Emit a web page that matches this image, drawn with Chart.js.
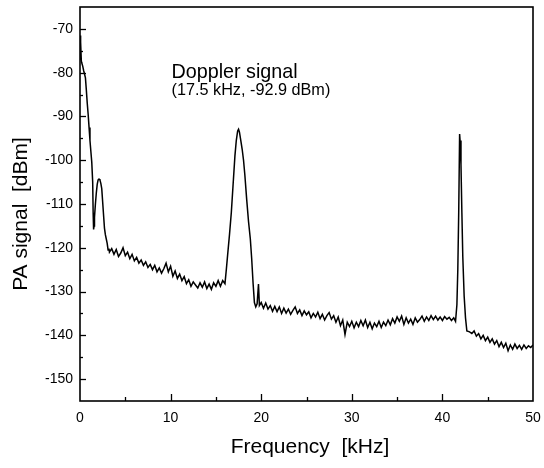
<!DOCTYPE html>
<html lang="en">
<head>
    <meta charset="UTF-8">
    <script src="https://cdn.jsdelivr.net/npm/chart.js"></script>
    <title>Doppler signal spectrum</title>
    <style>
        body { margin: 0; background: #fff; }
        #wrap { width: 544px; height: 468px; }
    </style>
</head>
<body>
    <div id="wrap"><canvas id="spectrum" width="544" height="468"></canvas></div>
    <script>
        const freqKHz = [
            0, 0.03, 0.07, 0.1, 0.15, 0.2, 0.3, 0.4, 0.5, 0.6, 0.7, 0.8, 0.9, 1.0, 1.1, 1.2, 1.3, 1.4, 1.45, 1.5,
            1.55, 1.6, 1.7, 1.8, 1.9, 2.0, 2.1, 2.2, 2.3, 2.4, 2.5, 2.6, 2.7, 2.8, 2.9, 3.0, 3.1, 3.2,
            3.25, 3.5, 3.75, 4.0, 4.25, 4.5, 4.75, 5.0, 5.25, 5.5, 5.75, 6.0, 6.25, 6.5, 6.75, 7.0, 7.25, 7.5, 7.75,
            8.0, 8.25, 8.5, 8.75, 9.0, 9.25, 9.5, 9.75, 10.0, 10.25, 10.5, 10.75, 11.0, 11.25, 11.5, 11.75,
            12.0, 12.25, 12.5, 12.75, 13.0, 13.25, 13.5, 13.75, 14.0, 14.25, 14.5, 14.75, 15.0, 15.25, 15.5, 15.75, 16.0,
            16.15, 16.3, 16.5, 16.7, 16.9, 17.1, 17.25, 17.4, 17.5, 17.6, 17.75, 17.9, 18.05, 18.2, 18.4, 18.6, 18.8,
            18.95, 19.1, 19.25, 19.4, 19.55, 19.7, 19.8, 20.0,
            20.25, 20.5, 20.75, 21.0, 21.25, 21.5, 21.75, 22.0, 22.25, 22.5, 22.75, 23.0, 23.25, 23.5, 23.75,
            24.0, 24.25, 24.5, 24.75, 25.0, 25.25, 25.5, 25.75, 26.0, 26.25, 26.5, 26.75, 27.0, 27.25, 27.5, 27.75,
            28.0, 28.25, 28.5, 28.75, 29.0, 29.25, 29.5, 29.75, 30.0, 30.25, 30.5, 30.75, 31.0, 31.25, 31.5, 31.75,
            32.0, 32.25, 32.5, 32.75, 33.0, 33.25, 33.5, 33.75, 34.0, 34.25, 34.5, 34.75, 35.0, 35.25, 35.5, 35.75,
            36.0, 36.25, 36.5, 36.75, 37.0, 37.25, 37.5, 37.75, 38.0, 38.25, 38.5, 38.75, 39.0, 39.25, 39.5, 39.75,
            40.0, 40.25, 40.5, 40.75, 41.0, 41.25, 41.45,
            41.6, 41.7, 41.8, 41.9, 41.95, 42.05, 42.15, 42.25, 42.4, 42.55, 42.7,
            43.0, 43.25, 43.5, 43.75, 44.0, 44.25, 44.5, 44.75, 45.0, 45.25, 45.5, 45.75, 46.0, 46.25, 46.5, 46.75,
            47.0, 47.25, 47.5, 47.75, 48.0, 48.25, 48.5, 48.75, 49.0, 49.25, 49.5, 49.75, 50.0
        ];
        const signalDbm = [
            -77, -71.5, -76, -73, -77.5, -77.8, -78.5, -79.5, -80.3, -81.2, -84, -87, -89.5, -92.5, -95.5, -98, -100.5, -105, -112, -115.8,
            -115, -113, -110, -107.5, -105.5, -104.5, -104.3, -104.5, -105.3, -106.5, -109.5, -112.5, -115.5, -117, -118, -119, -120.5, -120.2,
            -121.0, -120.2, -121.5, -120.4, -122.0, -121.2, -120.0, -121.8, -121.0, -122.5, -121.5, -123.0, -122.2, -123.5, -122.8, -124.0, -123.2, -124.5, -123.8,
            -125.0, -124.0, -125.5, -124.6, -125.8, -124.8, -123.5, -125.5, -124.2, -126.5, -125.3, -127.0, -126.0, -127.5, -126.6, -128.2,
            -127.3, -128.8, -127.8, -128.5, -129.2, -128.0, -129.0, -127.8, -129.3, -128.3, -129.5, -128.0, -128.8, -127.5, -128.8, -127.5, -128.2,
            -125, -121.5, -117, -112, -105.5, -99, -95.5, -93.3, -92.9, -93.6, -95.5, -97.5, -100, -103.5, -109, -114, -118,
            -122.5, -128, -132.5, -133.5, -132.8, -128.3, -133.2, -132.5,
            -133.8, -132.6, -134.0, -133.2, -134.5, -133.4, -134.6, -133.5, -135.0, -133.8, -134.9, -134.0, -135.2, -134.3, -133.5,
            -135.0, -134.2, -135.5, -134.4, -135.3, -134.6, -136.0, -135.0, -135.8, -134.7, -136.2, -135.2, -136.5, -135.5, -134.8, -136.3,
            -135.5, -137.0, -135.8, -137.8, -136.5, -139.8, -137.0, -138.0, -136.8, -138.3, -137.0, -138.0, -136.6, -137.8, -136.5, -138.2,
            -137.0, -138.5, -137.2, -138.0, -136.8, -138.2, -137.0, -137.8, -136.5, -137.6, -136.2, -137.2, -135.8, -136.8, -135.6, -137.5,
            -136.0, -137.2, -136.3, -137.5, -136.0, -137.0, -136.4, -135.6, -136.8, -135.8, -136.6, -135.5, -136.4, -135.6, -136.5, -135.8,
            -136.6, -135.7, -136.3, -135.9, -136.6, -136.0, -136.8,
            -133, -125, -112, -94, -95.5, -101, -112, -122, -131, -136, -139,
            -139.2, -139.6, -139.0, -140.2, -139.6, -140.8, -140.0, -141.2, -140.4, -141.6, -140.8, -142.0, -141.2, -142.6, -141.6, -142.8,
            -141.8, -143.5, -142.2, -143.2, -142.0, -143.0, -142.3, -143.2, -142.2, -143.0, -142.4, -142.8, -142.2
        ];

        const xRange = [0, 50];
        const yRange = [-155, -65];
        const peakLabel = ["Doppler signal", "(17.5 kHz, -92.9 dBm)"];
        const xTitle = "Frequency  [kHz]";
        const yTitle = "PA signal  [dBm]";

        const FONT = '"Liberation Sans", Arial, Helvetica, sans-serif';

        // frame, inward ticks, titles and the annotation
        const decorations = {
            id: "decorations",
            afterDatasetsDraw(chart) {
                const ctx = chart.ctx;
                const a = chart.chartArea;
                const xs = chart.scales.x, ys = chart.scales.y;
                ctx.save();
                ctx.strokeStyle = "#000";
                ctx.lineWidth = 1.6;
                ctx.strokeRect(a.left, a.top, a.right - a.left, a.bottom - a.top);

                ctx.lineWidth = 1.3;
                ys.ticks.forEach(t => {
                    if (t.value <= ys.min || t.value >= ys.max) return;
                    const py = Math.round(ys.getPixelForValue(t.value)) + 0.5;
                    const len = t.value % 10 === 0 ? 6 : 3;
                    ctx.beginPath();
                    ctx.moveTo(a.left, py);
                    ctx.lineTo(a.left + len, py);
                    ctx.stroke();
                });
                xs.ticks.forEach(t => {
                    if (t.value <= xs.min || t.value >= xs.max) return;
                    const px = Math.round(xs.getPixelForValue(t.value)) + 0.5;
                    const len = t.value % 10 === 0 ? 7 : 4;
                    ctx.beginPath();
                    ctx.moveTo(px, a.bottom);
                    ctx.lineTo(px, a.bottom - len);
                    ctx.stroke();
                });

                ctx.fillStyle = "#000";
                ctx.textBaseline = "alphabetic";

                // annotation
                ctx.save();
                ctx.translate(xs.getPixelForValue(10.1), ys.getPixelForValue(-81.2));
                ctx.scale(0.94, 1);
                ctx.font = "21px " + FONT;
                ctx.textAlign = "left";
                ctx.fillText(peakLabel[0], 0, 0);
                ctx.restore();

                ctx.save();
                ctx.translate(xs.getPixelForValue(10.1), ys.getPixelForValue(-85.0));
                ctx.scale(0.955, 1);
                ctx.font = "17px " + FONT;
                ctx.textAlign = "left";
                ctx.fillText(peakLabel[1], 0, 0);
                ctx.restore();

                // axis titles
                ctx.font = "21px " + FONT;
                ctx.textAlign = "center";
                ctx.fillText(xTitle, 310, 453);

                ctx.save();
                ctx.translate(27, 214);
                ctx.rotate(-Math.PI / 2);
                ctx.fillText(yTitle, 0, 0);
                ctx.restore();

                ctx.restore();
            }
        };

        const points = freqKHz.map((f, i) => ({ x: f, y: signalDbm[i] }));

        new Chart(document.getElementById("spectrum").getContext("2d"), {
            type: "line",
            data: {
                datasets: [{
                    data: points,
                    borderColor: "#000",
                    borderWidth: 1.5,
                    pointRadius: 0,
                    tension: 0,
                    fill: false
                }]
            },
            options: {
                responsive: false,
                animation: false,
                devicePixelRatio: 1,
                layout: { padding: { top: 7, right: 11, left: 0, bottom: 0 } },
                plugins: {
                    legend: { display: false },
                    tooltip: { enabled: false }
                },
                scales: {
                    x: {
                        type: "linear",
                        min: xRange[0],
                        max: xRange[1],
                        grid: { display: false, drawTicks: false },
                        border: { display: false },
                        ticks: {
                            stepSize: 5,
                            autoSkip: false,
                            maxRotation: 0,
                            padding: 9,
                            color: "#000",
                            font: { family: FONT, size: 14 },
                            callback: v => (v % 10 === 0 ? v : "")
                        },
                        afterFit: s => { s.height = 67; s.paddingLeft = 0; s.paddingRight = 0; }
                    },
                    y: {
                        min: yRange[0],
                        max: yRange[1],
                        grid: { display: false, drawTicks: false },
                        border: { display: false },
                        ticks: {
                            stepSize: 5,
                            autoSkip: false,
                            padding: 7,
                            color: "#000",
                            font: { family: FONT, size: 14 },
                            callback: v => (v % 10 === 0 ? v : "")
                        },
                        afterFit: s => { s.width = 80; s.paddingTop = 0; s.paddingBottom = 0; }
                    }
                }
            },
            plugins: [decorations]
        });
    </script>
</body>
</html>
